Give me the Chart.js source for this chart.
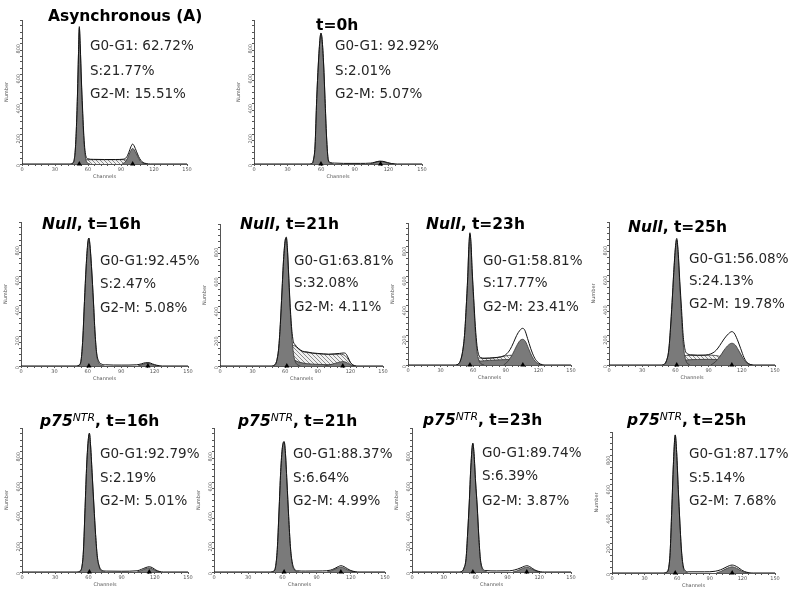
<!DOCTYPE html>
<html>
<head>
<meta charset="utf-8">
<script src="https://cdn.jsdelivr.net/npm/chart.js@4.4.0/dist/chart.umd.min.js"></script>
<style>
  html, body { margin: 0; padding: 0; background: #fff; }
  body { width: 800px; height: 596px; position: relative; overflow: hidden; font-family: "DejaVu Sans", Verdana, sans-serif; }
  .panel { position: absolute; }
  .txt { position: absolute; white-space: nowrap; line-height: 1; color: #262626; }
  .ttl { font-weight: bold; color: #000; }
  .ttl sup { font-size: 0.7em; font-weight: normal; vertical-align: 0.45em; line-height: 0; }
</style>
</head>
<body>
<script>
// Histogram data: [channel, count]
const asyncData = [[0,0],[44,0],[46,5],[47.5,30],[48.5,100],[49.5,250],[50.5,480],[51.3,720],[52.1,916],[53,780],[54,560],[55,380],[56,220],[57,110],[58,55],[59.5,35],[65,31],[75,30],[85,30],[92,32],[95,45],[97,75],[99,115],[100.6,133],[102,120],[104,85],[106,50],[108,25],[110,10],[113,3],[117,0],[150,0]];
const asyncG1 = [[44,0],[46,5],[47.5,30],[48.5,100],[49.5,250],[50.5,480],[51.3,720],[52.1,906],[53,770],[54,545],[55,355],[56,190],[57,85],[58,30],[59.5,8],[62,0]];
const asyncS = [[48,0],[51,10],[54,22],[58,28],[65,29],[75,29],[85,29],[92,29],[96,24],[100,16],[104,8],[108,2],[111,0]];
const asyncG2 = [[91,0],[94,15],[96,40],[98,75],[100.6,104],[102,95],[104,68],[106,38],[108,16],[111,4],[114,0]];
const asyncPeaks = [52.1, 100.6];
const asyncPct = ['G0-G1: 62.72%', 'S:21.77%', 'G2-M: 15.51%'];

const t0Data = [[0,0],[50,0],[52,5],[53,25],[54.5,120],[56,436],[57.4,660],[59,840],[59.8,872],[60.8,830],[62.2,660],[63.4,436],[64.8,180],[66.3,30],[68,10],[72,6],[80,4],[95,4],[104,6],[108,12],[112,19],[115,18],[119,10],[123,3],[128,0],[150,0]];
const t0G1 = [[50,0],[52,5],[53,25],[54.5,120],[56,436],[57.4,660],[59,840],[59.8,872],[60.8,830],[62.2,660],[63.4,436],[64.8,180],[66.3,25],[68,6],[71,0]];
const t0G2 = [[103,0],[106,5],[109,13],[113,17],[116,14],[119,7],[123,1],[126,0]];
const t0Peaks = [59.8, 113];
const t0Pct = ['G0-G1: 92.92%', 'S:2.01%', 'G2-M: 5.07%'];

const null16Data = [[0,0],[50,0],[52,5],[54,40],[55.5,180],[57,430],[58.5,660],[60,820],[61,853],[62,800],[63.5,640],[65,440],[66.5,220],[68,85],[70,30],[72,14],[76,8],[90,6],[104,8],[108,14],[112,22],[115,22],[118,14],[122,5],[127,0],[150,0]];
const null16G1 = [[50,0],[52,5],[54,40],[55.5,180],[57,430],[58.5,660],[60,820],[61,853],[62,800],[63.5,640],[65,440],[66.5,220],[68,75],[70,20],[72,5],[75,0]];
const null16G2 = [[105,0],[108,8],[112,16],[115,16],[118,10],[122,2],[125,0]];
const null16Peaks = [61, 114];
const null16Pct = ['G0-G1:92.45%', 'S:2.47%', 'G2-M: 5.08%'];

const null21Data = [[0,0],[48,0],[50,5],[52,30],[54,120],[55.5,280],[57,500],[58.5,720],[60,850],[61,872],[62,800],[63,650],[64.5,420],[66,250],[67.5,165],[69,145],[72,120],[76,100],[80,95],[85,88],[90,85],[95,82],[100,80],[105,82],[110,85],[114,88],[116,82],[118,55],[120,25],[122,8],[125,0],[150,0]];
const null21G1 = [[48,0],[50,5],[52,30],[54,120],[55.5,280],[57,500],[58.5,720],[60,850],[61,865],[62,790],[63,640],[64.5,400],[66,210],[67.5,90],[69,35],[71,10],[74,0]];
const null21S = [[55,0],[58,15],[61,50],[64,110],[66,135],[68,138],[72,116],[76,97],[80,92],[85,86],[90,83],[95,80],[100,78],[105,79],[110,80],[114,75],[117,55],[120,22],[123,5],[125,0]];
const null21Base = [[54,0],[58,15],[62,40],[65,52],[68,42],[72,28],[80,16],[90,11],[100,9],[110,7],[118,3],[122,0]];
const null21G2 = [[96,0],[100,6],[105,16],[110,26],[113,30],[116,25],[119,12],[122,3],[125,0]];
const null21Peaks = [61.5, 113];
const null21Pct = ['G0-G1:63.81%', 'S:32.08%', 'G2-M: 4.11%'];

const null23Data = [[0,0],[44,0],[46,5],[48,25],[50,80],[52,200],[53.5,380],[55,600],[56,800],[57,894],[58,820],[59,650],[60.5,450],[62,260],[63.5,130],[65,70],[67,50],[70,45],[75,47],[80,50],[85,55],[90,70],[94,105],[97,150],[100,200],[103,235],[105.5,248],[107.5,235],[110,180],[113,110],[116,55],[119,22],[122,6],[126,0],[150,0]];
const null23G1 = [[44,0],[46,5],[48,25],[50,80],[52,200],[53.5,380],[55,600],[56,790],[57,885],[58,810],[59,630],[60.5,420],[62,220],[63.5,90],[65,35],[67,10],[70,0]];
const null23S = [[54,0],[58,12],[61,35],[64,48],[68,46],[75,46],[80,49],[85,53],[90,62],[95,66],[100,60],[105,45],[110,28],[115,10],[119,0]];
const null23Base = [[52,0],[56,8],[60,18],[66,26],[75,31],[85,35],[92,37],[100,35],[106,28],[112,17],[118,6],[122,0]];
const null23G2 = [[88,0],[92,25],[96,70],[100,130],[103,165],[105.5,174],[108,160],[111,110],[114,60],[117,25],[120,8],[124,0]];
const null23Peaks = [57, 105.7];
const null23Pct = ['G0-G1:58.81%', 'S:17.77%', 'G2-M: 23.41%'];

const null25Data = [[0,0],[48,0],[50,5],[52,30],[54,100],[55.5,240],[57,420],[58.5,620],[60,790],[61.2,850],[62.5,760],[64,560],[65.5,380],[67,200],[68.5,110],[70,80],[75,68],[80,66],[85,66],[90,70],[94,82],[97,100],[100,130],[104,175],[108,210],[111,224],[113,215],[116,170],[119,110],[122,50],[125,15],[128,3],[131,0],[150,0]];
const null25G1 = [[48,0],[50,5],[52,30],[54,100],[55.5,240],[57,420],[58.5,620],[60,780],[61.2,840],[62.5,740],[64,530],[65.5,330],[67,150],[68.5,60],[70,20],[73,0]];
const null25S = [[55,0],[59,15],[63,40],[66,58],[70,64],[80,64],[90,66],[96,64],[102,55],[108,40],[114,22],[120,6],[124,0]];
const null25Base = [[54,0],[58,12],[63,26],[70,34],[80,37],[90,38],[98,36],[105,29],[112,17],[118,7],[123,0]];
const null25G2 = [[92,0],[96,20],[100,55],[104,100],[108,135],[111,146],[114,135],[117,100],[120,60],[123,25],[127,5],[130,0]];
const null25Peaks = [61.2, 111];
const null25Pct = ['G0-G1:56.08%', 'S:24.13%', 'G2-M: 19.78%'];

const p16Data = [[0,0],[50,0],[52,4],[54,30],[55.5,140],[57,430],[58.5,720],[60,890],[60.9,925],[62,840],[63.5,640],[65,440],[66.5,250],[68,110],[70,35],[72,12],[76,6],[90,5],[104,8],[108,18],[112,30],[115,35],[118,28],[121,13],[124,4],[128,0],[150,0]];
const p16G1 = [[50,0],[52,4],[54,30],[55.5,140],[57,430],[58.5,720],[60,890],[60.9,925],[62,840],[63.5,640],[65,440],[66.5,250],[68,100],[70,28],[72,6],[75,0]];
const p16G2 = [[104,0],[108,10],[112,23],[115,27],[118,20],[121,8],[125,0]];
const p16Peaks = [60.9, 115];
const p16Pct = ['G0-G1:92.79%', 'S:2.19%', 'G2-M: 5.01%'];

const p21Data = [[0,0],[50,0],[52,4],[54,35],[55.5,150],[57,400],[58.5,670],[60,830],[61.5,869],[62.5,810],[64,600],[65.5,370],[67,170],[68.5,70],[70.5,20],[73,8],[80,6],[95,7],[102,12],[106,24],[109,36],[111.3,42],[114,36],[117,22],[120,10],[124,2],[128,0],[150,0]];
const p21G1 = [[50,0],[52,4],[54,35],[55.5,150],[57,400],[58.5,670],[60,830],[61.5,869],[62.5,810],[64,600],[65.5,370],[67,170],[68.5,60],[70.5,12],[73,2],[75,0]];
const p21G2 = [[99,0],[103,8],[107,22],[111.3,32],[114,27],[117,15],[121,4],[125,0]];
const p21Peaks = [61.5, 111.3];
const p21Pct = ['G0-G1:88.37%', 'S:6.64%', 'G2-M: 4.99%'];

const p23Data = [[0,0],[45,0],[47,4],[49,25],[51,90],[52.5,260],[54,460],[55.5,700],[57.4,858],[58.5,790],[60,600],[61.5,440],[63,240],[64.5,90],[66.5,25],[69,10],[80,7],[92,8],[97,14],[102,26],[106,38],[108.3,42],[111,36],[114,22],[117,10],[121,2],[125,0],[150,0]];
const p23G1 = [[45,0],[47,4],[49,25],[51,90],[52.5,260],[54,460],[55.5,700],[57.4,858],[58.5,790],[60,600],[61.5,440],[63,240],[64.5,80],[66.5,15],[69,3],[71,0]];
const p23G2 = [[95,0],[99,7],[103,20],[108.3,32],[111,27],[114,16],[118,4],[121,0]];
const p23Peaks = [57.4, 108.3];
const p23Pct = ['G0-G1:89.74%', 'S:6.39%', 'G2-M: 3.87%'];

const p25Data = [[0,0],[48,0],[50,4],[52,30],[53.5,140],[55,430],[56.5,740],[58.2,940],[59.5,820],[61,570],[62.5,340],[64,150],[65.5,50],[67.5,15],[70,8],[85,8],[95,12],[100,22],[104,36],[108,50],[110.6,54],[113,50],[116,38],[119,22],[122,10],[126,2],[130,0],[150,0]];
const p25G1 = [[48,0],[50,4],[52,30],[53.5,140],[55,430],[56.5,740],[58.2,940],[59.5,820],[61,570],[62.5,340],[64,140],[65.5,40],[67.5,8],[70,0]];
const p25G2 = [[96,0],[100,10],[104,25],[108,38],[110.6,42],[113,38],[116,27],[119,14],[122,5],[126,0]];
const p25Peaks = [58.2, 110.6];
const p25Pct = ['G0-G1:87.17%', 'S:5.14%', 'G2-M: 7.68%'];

// layout: plot box [left, right, top, bottom] in page pixels, title and text anchors
const panels = [
  { data: asyncData, g1: asyncG1, s: asyncS, g2: asyncG2, peaks: asyncPeaks, pct: asyncPct, box: [22, 187, 20, 164],
    title: 'Asynchronous (A)', tx: 48, ty: 22, px: 90, py: [50, 75, 98] },
  { data: t0Data, g1: t0G1, g2: t0G2, peaks: t0Peaks, pct: t0Pct, box: [254, 422, 20, 164],
    title: 't=0h', tx: 316, ty: 31.5, px: 335, py: [50, 75, 98] },
  { data: null16Data, g1: null16G1, g2: null16G2, peaks: null16Peaks, pct: null16Pct, box: [21, 188, 222, 366],
    title: '<i>Null</i>, t=16h', tx: 42, ty: 230, px: 100, py: [265, 288, 312] },
  { data: null21Data, g1: null21G1, s: null21S, base: null21Base, g2: null21G2, peaks: null21Peaks, pct: null21Pct, box: [220, 383, 224, 366],
    title: '<i>Null</i>, t=21h', tx: 240, ty: 230, px: 294, py: [265, 287, 311] },
  { data: null23Data, g1: null23G1, s: null23S, base: null23Base, g2: null23G2, peaks: null23Peaks, pct: null23Pct, box: [408, 571, 223, 365],
    title: '<i>Null</i>, t=23h', tx: 426, ty: 230, px: 483, py: [265, 287, 311] },
  { data: null25Data, g1: null25G1, s: null25S, base: null25Base, g2: null25G2, peaks: null25Peaks, pct: null25Pct, box: [609, 775, 222, 365],
    title: '<i>Null</i>, t=25h', tx: 628, ty: 233, px: 689, py: [263, 285, 308] },
  { data: p16Data, g1: p16G1, g2: p16G2, peaks: p16Peaks, pct: p16Pct, box: [22, 188, 428, 572],
    title: '<i>p75<sup>NTR</sup></i>, t=16h', tx: 40, ty: 427, px: 100, py: [458, 482, 505] },
  { data: p21Data, g1: p21G1, g2: p21G2, peaks: p21Peaks, pct: p21Pct, box: [214, 385, 428, 572],
    title: '<i>p75<sup>NTR</sup></i>, t=21h', tx: 238, ty: 427, px: 293, py: [458, 482, 505] },
  { data: p23Data, g1: p23G1, g2: p23G2, peaks: p23Peaks, pct: p23Pct, box: [412, 571, 428, 572],
    title: '<i>p75<sup>NTR</sup></i>, t=23h', tx: 423, ty: 426, px: 482, py: [457, 480, 505] },
  { data: p25Data, g1: p25G1, g2: p25G2, peaks: p25Peaks, pct: p25Pct, box: [612, 775, 432, 573],
    title: '<i>p75<sup>NTR</sup></i>, t=25h', tx: 627, ty: 426, px: 689, py: [458, 482, 505] }
];

Chart.defaults.font.family = '"DejaVu Sans", Verdana, sans-serif';

// hatch pattern for the S-phase area
function makeHatch() {
  const c = document.createElement('canvas');
  c.width = 4; c.height = 4;
  const g = c.getContext('2d');
  g.fillStyle = '#f0f0f0';
  g.fillRect(0, 0, 4, 4);
  g.strokeStyle = '#8a8a8a';
  g.lineWidth = 1;
  g.beginPath();
  g.moveTo(0, 0); g.lineTo(4, 4);
  g.stroke();
  return g.createPattern(c, 'repeat');
}
const hatch = makeHatch();
const dark = '#7a7a7a';

function addText(html, x, baseline, size, cls) {
  const d = document.createElement('div');
  d.className = 'txt ' + (cls || '');
  d.style.fontSize = size + 'px';
  d.style.left = x + 'px';
  d.style.top = (baseline - 0.846 * size) + 'px';
  d.innerHTML = html;
  document.body.appendChild(d);
}

function area(data, fillColor, order) {
  return { data: data, fill: 'origin', backgroundColor: fillColor, borderColor: '#333', borderWidth: 0.8,
    pointRadius: 0, order: order, cubicInterpolationMode: 'monotone' };
}

function createChart(p) {
  const [L, R, T, B] = p.box;
  const wrap = document.createElement('div');
  wrap.className = 'panel';
  wrap.style.left = (L - 20) + 'px';
  wrap.style.top = (T - 6) + 'px';
  wrap.style.width = (R - L + 32) + 'px';
  wrap.style.height = (B - T + 22) + 'px';
  const cv = document.createElement('canvas');
  wrap.appendChild(cv);
  document.body.appendChild(wrap);

  const datasets = [];
  if (p.s) datasets.push(area(p.s, hatch, 4));
  if (p.base) datasets.push(area(p.base, dark, 3));
  datasets.push(area(p.g1, dark, 2));
  datasets.push(area(p.g2, dark, 2));
  // raw histogram outline on top
  datasets.push({ data: p.data, fill: false, borderColor: '#111', borderWidth: 1, pointRadius: 0, order: 1,
    cubicInterpolationMode: 'monotone' });
  // peak markers on the channel axis
  datasets.push({ data: p.peaks.map(c => [c, 0]), showLine: false, pointStyle: 'triangle', pointRadius: 3,
    backgroundColor: '#000', borderColor: '#000', borderWidth: 0, clip: false, order: 0 });

  const axisCol = '#555';
  return new Chart(cv, {
    type: 'line',
    data: { datasets: datasets },
    options: {
      responsive: true,
      maintainAspectRatio: false,
      animation: false,
      events: [],
      layout: { padding: { left: 2, top: 6, right: 12, bottom: 0 } },
      plugins: { legend: { display: false }, tooltip: { enabled: false } },
      scales: {
        x: {
          type: 'linear', min: 0, max: 150,
          afterFit: s => { s.height = 16; },
          border: { color: axisCol, width: 1 },
          grid: { drawOnChartArea: false, drawTicks: true, tickLength: 2, color: axisCol },
          ticks: { stepSize: 6, maxTicksLimit: 100, autoSkip: false, minRotation: 0, maxRotation: 0,
            font: { size: 5 }, color: axisCol, padding: 1,
            callback: v => (v % 30 === 0 ? String(v) : '') },
          title: { display: true, text: 'Channels', font: { size: 5 }, color: axisCol, padding: 0 }
        },
        y: {
          min: 0, max: 960,
          afterFit: s => { s.width = 18; },
          border: { color: axisCol, width: 1 },
          grid: { drawOnChartArea: false, drawTicks: true, tickLength: 2, color: axisCol },
          ticks: { stepSize: 40, maxTicksLimit: 100, autoSkip: false, minRotation: 90, maxRotation: 90,
            font: { size: 5 }, color: axisCol, padding: 1,
            callback: v => (v % 200 === 0 ? String(v) : '') },
          title: { display: true, text: 'Number', font: { size: 5 }, color: axisCol, padding: 0 }
        }
      }
    }
  });
}

panels.forEach(p => {
  createChart(p);
  addText(p.title, p.tx, p.ty, 15.5, 'ttl');
  p.pct.forEach((s, i) => addText(s, p.px, p.py[i], 13.5));
});
</script>
</body>
</html>
